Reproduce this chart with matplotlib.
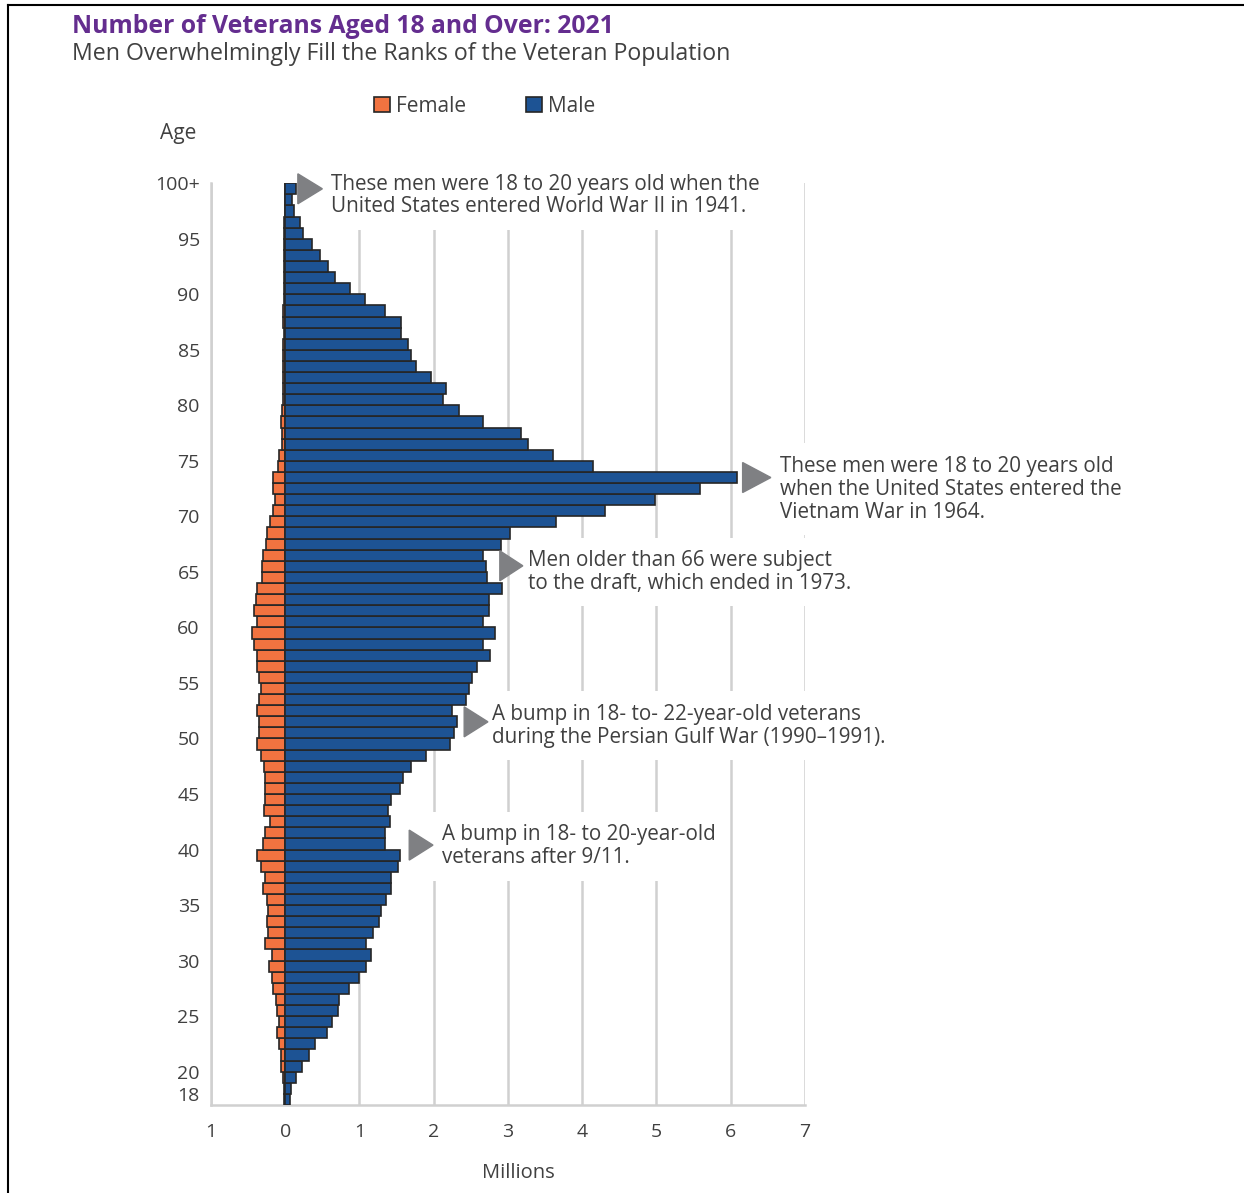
import numpy as np
import matplotlib.pyplot as plt
from matplotlib.lines import Line2D

plt.rcParams['font.family'] = ['Open Sans', 'DejaVu Sans']

# Veterans by single year of age (18 .. 100+), millions
ages = np.arange(18, 101)
male = [0.06, 0.08, 0.15, 0.23, 0.32, 0.40, 0.56, 0.63, 0.71, 0.73,   # 18-27
        0.86, 0.99, 1.09, 1.16, 1.09, 1.18, 1.26, 1.29, 1.36, 1.43,   # 28-37
        1.42, 1.52, 1.54, 1.35, 1.34, 1.41, 1.38, 1.43, 1.54, 1.58,   # 38-47
        1.69, 1.89, 2.22, 2.27, 2.32, 2.25, 2.43, 2.47, 2.52, 2.58,   # 48-57
        2.76, 2.67, 2.83, 2.67, 2.75, 2.75, 2.92, 2.72, 2.70, 2.67,   # 58-67
        2.90, 3.03, 3.65, 4.30, 4.98, 5.59, 6.09, 4.14, 3.61, 3.27,   # 68-77
        3.18, 2.66, 2.34, 2.12, 2.17, 1.96, 1.76, 1.69, 1.65, 1.56,   # 78-87
        1.56, 1.34, 1.08, 0.87, 0.67, 0.57, 0.47, 0.36, 0.245, 0.205, # 88-97
        0.115, 0.09, 0.14]                                            # 98-100+
female = [0.01, 0.01, 0.03, 0.06, 0.06, 0.08, 0.11, 0.09, 0.11, 0.12,
          0.16, 0.18, 0.22, 0.18, 0.27, 0.23, 0.24, 0.23, 0.24, 0.30,
          0.27, 0.33, 0.38, 0.30, 0.27, 0.20, 0.29, 0.27, 0.27, 0.27,
          0.28, 0.33, 0.38, 0.36, 0.36, 0.38, 0.36, 0.33, 0.36, 0.38,
          0.38, 0.42, 0.45, 0.38, 0.42, 0.40, 0.38, 0.31, 0.31, 0.30,
          0.26, 0.24, 0.21, 0.17, 0.14, 0.17, 0.17, 0.10, 0.09, 0.05,
          0.05, 0.06, 0.04, 0.03, 0.03, 0.03, 0.03, 0.03, 0.03, 0.02,
          0.03, 0.03, 0.02, 0.02, 0.01, 0.01, 0.01, 0.01, 0.01, 0.01,
          0.005, 0.005, 0.005]

age_ticks = [18, 20, 25, 30, 35, 40, 45, 50, 55, 60, 65, 70, 75, 80, 85, 90, 95, 100]
age_labels = [str(a) for a in age_ticks[:-1]] + ['100+']
x_ticks = [-1, 0, 1, 2, 3, 4, 5, 6, 7]
x_labels = ['1', '0', '1', '2', '3', '4', '5', '6', '7']

# callouts: text, text anchor (x, age), arrow (x_left, x_tip, age)
notes = [
    ("These men were 18 to 20 years old when the\nUnited States entered World War II in 1941.",
     (0.61, 98.9), (0.17, 0.50, 99.5)),
    ("These men were 18 to 20 years old\nwhen the United States entered the\nVietnam War in 1964.",
     (6.66, 72.45), (6.16, 6.54, 73.5)),
    ("Men older than 66 were subject\nto the draft, which ended in 1973.",
     (3.27, 65.0), (2.89, 3.20, 65.55)),
    ("A bump in 18- to- 22-year-old veterans\nduring the Persian Gulf War (1990\u20131991).",
     (2.79, 51.15), (2.41, 2.73, 51.5)),
    ("A bump in 18- to 20-year-old\nveterans after 9/11.",
     (2.11, 40.3), (1.67, 1.99, 40.4)),
]

MALE_C = '#1d5394'
FEMALE_C = '#f27340'
EDGE_C = '#262626'
GRID_C = '#d0d0d0'
TEXT_C = '#404040'

fig = plt.figure(figsize=(12.44, 11.93), dpi=100)
ax = fig.add_axes([0.1696, 0.0738, 0.4775, 0.7726])

# each bar sits just below its age tick
ypos = ages - 0.5
fb = ax.barh(ypos, -np.array(female), height=1.0, color=FEMALE_C,
             edgecolor=EDGE_C, linewidth=1.2, label='Female', zorder=3)
mb = ax.barh(ypos, male, height=1.0, color=MALE_C,
             edgecolor=EDGE_C, linewidth=1.2, label='Male', zorder=3)

ax.set_xlim(-1, 7)
ax.set_ylim(17, 100)
ax.set_xticks(x_ticks)
ax.set_xticklabels(x_labels)
ax.set_yticks(age_ticks)
ax.set_yticklabels(age_labels)
ax.tick_params(axis='both', length=0, labelsize=14, colors=TEXT_C)
ax.tick_params(axis='x', pad=13)
ax.tick_params(axis='y', pad=8)

ax.xaxis.grid(True, color=GRID_C, linewidth=1.8, zorder=0)
ax.set_axisbelow(True)
for s in ['top', 'right']:
    ax.spines[s].set_visible(False)
for s in ['left', 'bottom']:
    ax.spines[s].set_color(GRID_C)
    ax.spines[s].set_linewidth(1.8)

ax.set_xlabel('Millions', fontsize=14.5, color=TEXT_C)
ax.xaxis.set_label_coords(0.518, -0.0635)

for text, (tx, ty), (x0, x1, ay) in notes:
    ax.text(tx, ty, text, fontsize=14.9, color=TEXT_C, va='center', ha='left',
            linespacing=1.12, zorder=4,
            bbox=dict(facecolor='white', edgecolor='none', pad=9))
    ax.fill([x0, x0, x1], [ay + 1.35, ay - 1.35, ay], color='#7f8083',
            zorder=5, clip_on=False)

ax.legend(handles=[fb, mb], loc='center left', bbox_to_anchor=(0.3006, 0.9111),
          bbox_transform=fig.transFigure, ncol=2, frameon=False, fontsize=15,
          handlelength=0.75, handleheight=0.75, handletextpad=0.3,
          columnspacing=2.9, borderpad=0, borderaxespad=0, labelcolor=TEXT_C)

fig.text(0.143, 0.8877, 'Age', fontsize=15, color=TEXT_C, ha='center', va='center')

fig.text(0.058, 0.9775, 'Number of Veterans Aged 18 and Over: 2021', fontsize=17.8,
         fontweight='bold', color='#642d8f', ha='left', va='center')
fig.text(0.058, 0.9545, 'Men Overwhelmingly Fill the Ranks of the Veteran Population',
         fontsize=16.7, color=TEXT_C, ha='left', va='center')

# page frame
fig.add_artist(Line2D([0.0064, 1.0], [0.9958, 0.9958], color='black', linewidth=1.5))
fig.add_artist(Line2D([0.0064, 0.0064], [0.0, 0.9958], color='black', linewidth=1.5))

fig.savefig('out.png', dpi=100)
